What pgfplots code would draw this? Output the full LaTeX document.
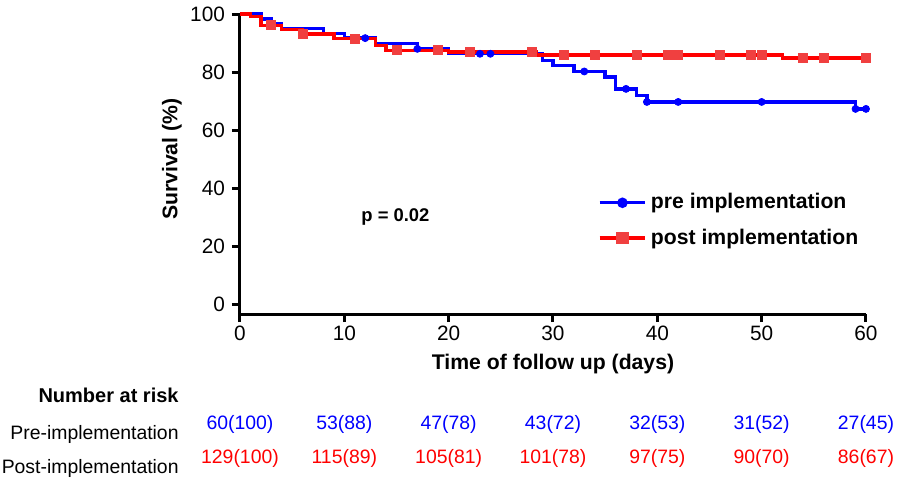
\documentclass[border=0pt]{standalone}
\usepackage{fontspec}
\setmainfont{Liberation Sans}
\usepackage{pgfplots}
\pgfplotsset{compat=1.18}
\usetikzlibrary{calc}
\definecolor{preblue}{RGB}{0,0,255}
\definecolor{postred}{RGB}{255,0,0}
\definecolor{markred}{RGB}{240,64,64}
\newcommand\fs{\fontsize{9.7}{11.6}\selectfont}
\newcommand\fl{\fontsize{10.6}{12.7}\selectfont}
\newcommand\ft{\fontsize{10.4}{12.5}\selectfont}

% Kaplan-Meier steps (value holds from x to next x)
\pgfplotstableread{
x y
0 100
2 98.3
3 96.7
4 95.0
8 93.3
10 91.7
13 89.9
17 88.0
20 86.3
29 84.0
30 82.3
32 80.2
35 78.3
36 74.2
38 72.0
39 69.7
59 67.3
60 67.3
}\prestep
\pgfplotstableread{
x y
12 91.7
17 88.0
23 86.3
24 86.3
33 80.2
37 74.2
39 69.7
42 69.7
50 69.7
59 67.3
60 67.3
}\precens
\pgfplotstableread{
x y
0 100
1 99.2
2 96.1
4 94.7
6 93.1
9 91.5
13 89.2
14 87.5
20 86.9
28.4 85.9
52 84.9
60 84.9
}\poststep
\pgfplotstableread{
x y
3 96.1
6 93.1
11 91.5
15 87.5
19 87.5
22 86.9
28 86.9
31 85.9
34 85.9
38 85.9
41 85.9
42 85.9
46 85.9
49 85.9
50 85.9
54 84.9
56 84.9
60 84.9
}\postcens

\begin{document}
\begin{tikzpicture}
\begin{axis}[
    scale only axis,
    width=313pt, height=150pt,
    xmin=0, xmax=60, ymin=-3.4, ymax=100,
    axis lines*=left,
    axis line style={line width=1.5pt, black},
    xtick={0,10,...,60}, ytick={0,20,...,100},
    tick align=outside,
    major tick length=4pt,
    tick style={line width=1.5pt, black},
    /pgf/number format/assume math mode=true,
    ticklabel style={font=\ft},
    x tick label style={yshift=1.8pt},
    xlabel={\bfseries Time of follow up (days)},
    ylabel={\bfseries Survival (\%)},
    xlabel style={font=\fl, at={(axis description cs:0.5,0)}, anchor=center, yshift=-25pt},
    ylabel style={font=\fl, at={(axis description cs:0,0.516)}, anchor=center, yshift=34pt},
    clip=false,
    legend style={at={(axis cs:33.7,41)}, anchor=north west, draw=none, fill=none,
        font=\fl\bfseries, row sep=4.5pt},
    legend cell align=left,
]
\addplot[preblue, line width=1.7pt, const plot, no marks,
    legend image code/.code={\draw[preblue, line width=1.7pt] (0cm,0cm) -- (0.8cm,0cm);
        \fill[preblue] (0.4cm,0cm) circle (1.75pt);}] table {\prestep};
\addlegendentry{pre implementation}
\addplot[only marks, mark=*, mark size=1.75pt, preblue, forget plot] table {\precens};
\addplot[postred, line width=1.7pt, const plot, no marks,
    legend image code/.code={\draw[postred, line width=1.7pt] (0cm,0cm) -- (0.8cm,0cm);
        \fill[markred] (0.4cm-2.25pt,-2.25pt) rectangle (0.4cm+2.25pt,2.25pt);}] table {\poststep};
\addlegendentry{post implementation}
\addplot[only marks, mark=square*, mark size=2.25pt, markred, forget plot] table {\postcens};

\node[font=\fontsize{9.2}{11}\selectfont\bfseries] at (axis cs:14.9,30) {p = 0.02};

\coordinate (O) at (axis cs:0,0);

% number at risk table
\begin{scope}[every node/.style={inner sep=0pt}]
\node[anchor=mid east, font=\fontsize{10}{12}\selectfont\bfseries] at ($(O)+(-30.5pt,-46.5pt)$) {Number at risk};
\node[anchor=mid east, font=\fs] at ($(O)+(-30.5pt,-65pt)$) {Pre-implementation};
\node[anchor=mid east, font=\fs] at ($(O)+(-30.5pt,-82pt)$) {Post-implementation};

\node[anchor=mid, font=\fs, preblue] at ($(axis cs:0,0)+(0,-65pt)$) {60(100)};
\node[anchor=mid, font=\fs, preblue] at ($(axis cs:10,0)+(0,-65pt)$) {53(88)};
\node[anchor=mid, font=\fs, preblue] at ($(axis cs:20,0)+(0,-65pt)$) {47(78)};
\node[anchor=mid, font=\fs, preblue] at ($(axis cs:30,0)+(0,-65pt)$) {43(72)};
\node[anchor=mid, font=\fs, preblue] at ($(axis cs:40,0)+(0,-65pt)$) {32(53)};
\node[anchor=mid, font=\fs, preblue] at ($(axis cs:50,0)+(0,-65pt)$) {31(52)};
\node[anchor=mid, font=\fs, preblue] at ($(axis cs:60,0)+(0,-65pt)$) {27(45)};

\node[anchor=mid, font=\fs, postred] at ($(axis cs:0,0)+(0,-82pt)$) {129(100)};
\node[anchor=mid, font=\fs, postred] at ($(axis cs:10,0)+(0,-82pt)$) {115(89)};
\node[anchor=mid, font=\fs, postred] at ($(axis cs:20,0)+(0,-82pt)$) {105(81)};
\node[anchor=mid, font=\fs, postred] at ($(axis cs:30,0)+(0,-82pt)$) {101(78)};
\node[anchor=mid, font=\fs, postred] at ($(axis cs:40,0)+(0,-82pt)$) {97(75)};
\node[anchor=mid, font=\fs, postred] at ($(axis cs:50,0)+(0,-82pt)$) {90(70)};
\node[anchor=mid, font=\fs, postred] at ($(axis cs:60,0)+(0,-82pt)$) {86(67)};
\end{scope}
\end{axis}
% frame matching the reference canvas
\path ($(O)+(-120pt,-89.5pt)$) rectangle ($(O)+(329pt,151pt)$);
\end{tikzpicture}
\end{document}
